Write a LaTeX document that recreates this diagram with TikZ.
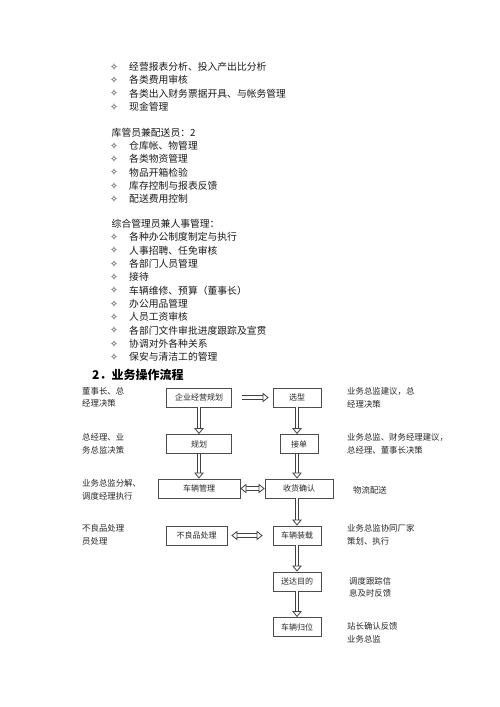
\documentclass[tikz,border=0pt]{standalone}
\usepackage{fontspec}
\setmainfont{Noto Sans CJK SC}
\newfontfamily\symfont{DejaVu Sans}
\usetikzlibrary{arrows.meta}

\begin{document}
\begin{tikzpicture}[x=1pt, y=-1pt,
    % list lines and their bullets
    listline/.style={anchor=west, inner sep=0pt, text=black!90,
                     font=\fontsize{9.8}{11}\selectfont},
    listhead/.style={listline},
    bullet/.style={inner sep=0pt, text=black!90, font=\symfont\fontsize{9.5}{10}\selectfont},
    % flow chart boxes
    box/.style={rectangle, draw=black!70, line width=0.8pt, fill=white,
                minimum height=19pt, inner sep=0pt, text=black!85,
                font=\fontsize{8}{9}\selectfont},
    % notes beside the chart
    sidenote/.style={anchor=west, align=left, inner sep=0pt, text=black!85,
                     font=\fontsize{8.4}{12.5}\selectfont},
    % hollow block arrows
    >={Triangle[open, fill=white, width=9.5pt, length=6pt, line width=0.8pt]},
    hollow/.style={draw=black!75, line width=0.8pt, double=white, double distance=2.6pt}
]
\useasboundingbox (0,0) rectangle (500,707);

%-------- FINANCE DUTIES --------
\foreach \txt [count=\i from 0] in {经营报表分析、投入产出比分析, 各类费用审核,
    各类出入财务票据开具、与帐务管理, 现金管理} {
  \node[bullet] (finb\i) at (114, 66.7+13.33*\i) {✧};
  \node[listline] (fin\i) at (129, 66.7+13.33*\i) {\txt};
}

%-------- STOREKEEPER --------
\node[listhead] (storehead) at (111.5, 132.5) {库管员兼配送员：2};
\foreach \txt [count=\i from 0] in {仓库帐、物管理, 各类物资管理, 物品开箱检验,
    库存控制与报表反馈, 配送费用控制} {
  \node[bullet] (storeb\i) at (114, 145.7+13.33*\i) {✧};
  \node[listline] (store\i) at (129, 145.7+13.33*\i) {\txt};
}

%-------- GENERAL ADMIN --------
\node[listhead] (adminhead) at (111.5, 224) {综合管理员兼人事管理：};
\foreach \txt [count=\i from 0] in {各种办公制度制定与执行, 人事招聘、任免审核,
    各部门人员管理, 接待, 车辆维修、预算（董事长）, 办公用品管理, 人员工资审核,
    各部门文件审批进度跟踪及宣贯, 协调对外各种关系, 保安与清洁工的管理} {
  \node[bullet] (adminb\i) at (114, 237+13.33*\i) {✧};
  \node[listline] (admin\i) at (129, 237+13.33*\i) {\txt};
}

%-------- SECTION TITLE --------
\node[anchor=west, inner sep=0pt, font=\fontsize{12}{14}\selectfont\bfseries]
    (flowtitle) at (92, 375) {2．业务操作流程};

%-------- FLOW BOXES --------
\node[box, minimum width=65pt] (plan)     at (199, 397.5) {企业经营规划};
\node[box, minimum width=48pt] (select)   at (297, 397.5) {选型};
\node[box, minimum width=65pt] (program)  at (199, 444)   {规划};
\node[box, minimum width=38pt] (order)    at (299, 444)   {接单};
\node[box, minimum width=82pt] (fleet)    at (199, 488.5) {车辆管理};
\node[box, minimum width=68pt] (receipt)  at (299, 488.5) {收货确认};
\node[box, minimum width=61pt] (defect)   at (196.5, 535.5) {不良品处理};
\node[box, minimum width=48pt] (loading)  at (297, 535.5) {车辆装载};
\node[box, minimum width=48pt] (deliver)  at (297, 581.5) {送达目的};
\node[box, minimum width=48pt] (return)   at (297, 627)   {车辆归位};

%-------- ARROWS --------
\draw[hollow, ->, shorten <=10pt, shorten >=4pt] (plan) -- (select);
\draw[hollow, ->] (plan)    -- (program);
\draw[hollow, ->] (program) -- (fleet);
\draw[hollow, ->] (select)  -- (select.south |- order.north);
\draw[hollow, ->] (select.south |- order.south) -- (select.south |- receipt.north);
\draw[hollow, ->] (select.south |- receipt.south) -- (loading);
\draw[hollow, ->] (loading) -- (deliver);
\draw[hollow, ->] (deliver) -- (return);
\draw[hollow, <->] (fleet) -- (receipt);
\draw[hollow, <->, shorten <=4pt, shorten >=10pt] (defect) -- (loading);

%-------- NOTES LEFT --------
\node[sidenote] (noteboard)  at (82, 397.5) {董事长、总\\经理决策};
\node[sidenote] (notegm)     at (82, 444)   {总经理、业\\务总监决策};
\node[sidenote] (notesplit)  at (82, 490)   {业务总监分解、\\调度经理执行};
\node[sidenote] (notedefect) at (82, 535)   {不良品处理\\员处理};

%-------- NOTES RIGHT --------
\node[sidenote] (noteselect)  at (347, 398)   {业务总监建议，总\\经理决策};
\node[sidenote] (noteorder)   at (347, 444)   {业务总监、财务经理建议，\\总经理、董事长决策};
\node[sidenote] (notelogist)  at (353, 490)   {物流配送};
\node[sidenote] (noteloading) at (347, 535)   {业务总监协同厂家\\策划、执行};
\node[sidenote] (notetrack)   at (349, 587.5) {调度跟踪信\\息及时反馈};
\node[sidenote] (notereturn)  at (347, 633)   {站长确认反馈\\业务总监};

\end{tikzpicture}
\end{document}
